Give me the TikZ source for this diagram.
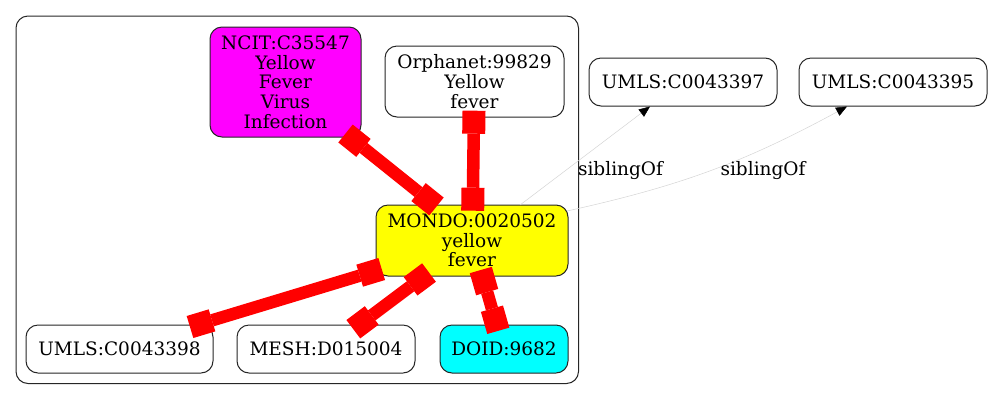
\documentclass[tikz,border=0pt]{standalone}
\usepackage{fontspec}
\setmainfont{DejaVu Serif}
\usetikzlibrary{arrows.meta,calc}
\definecolor{gvmag}{RGB}{255,0,255}
\definecolor{gvyel}{RGB}{255,255,0}
\definecolor{gvcyan}{RGB}{0,255,255}
\definecolor{gvred}{RGB}{255,0,0}
\begin{document}
\begin{tikzpicture}[x=1pt,y=-1pt,
  box/.style={draw=black!85, line width=1pt, rounded corners=12pt, align=center,
    inner sep=0pt, outer sep=0pt, font=\fontsize{18.5}{19.7}\selectfont},
  redge/.style={draw=gvred, line width=12.5pt,
    {Square[length=23pt,width=23pt,line width=0pt]}-{Square[length=23pt,width=23pt,line width=0pt]}},
  sib/.style={draw=black!17, line width=0.5pt, -{Triangle[length=11pt,width=9pt,black]}},
  lab/.style={inner sep=0pt, font=\fontsize{18.5}{19.7}\selectfont}
]
\useasboundingbox (0,0) rectangle (992,400);
\draw[draw=black!85, line width=1pt, rounded corners=12pt] (16,16) rectangle (578.5,383.5);

\node[box, fill=gvmag, minimum width=151pt, minimum height=110pt] (ncit) at (285.5,82) {NCIT:C35547\\Yellow\\Fever\\Virus\\Infection};
\node[box, fill=white, minimum width=179pt, minimum height=71pt] (orpha) at (474.5,81.5) {Orphanet:99829\\Yellow\\fever};
\node[box, fill=gvyel, minimum width=192pt, minimum height=71pt] (mondo) at (472,240.5) {MONDO:0020502\\yellow\\fever};
\node[box, fill=white, minimum width=187pt, minimum height=48pt] (u98) at (119.5,349) {UMLS:C0043398};
\node[box, fill=white, minimum width=178pt, minimum height=48pt] (mesh) at (326,349) {MESH:D015004};
\node[box, fill=gvcyan, minimum width=128pt, minimum height=48pt] (doid) at (504,349) {DOID:9682};
\node[box, fill=white, minimum width=188pt, minimum height=48pt] (u97) at (683,82) {UMLS:C0043397};
\node[box, fill=white, minimum width=188pt, minimum height=48pt] (u95) at (893,82) {UMLS:C0043395};

\draw[redge] ($(ncit.south east)+(-15.5,-3.5)$) -- ($(mondo.north west)+(60.5,1.5)$);
\draw[redge] ($(orpha.south)+(-0.5,-6.3)$) -- ($(mondo.north)+(0.7,5.7)$);
\draw[redge] ($(mondo.south west)+(5.7,-7)$) -- ($(u98.north east)+(-23,2)$);
\draw[redge] ($(mondo.south)+(-43,-3.5)$) -- ($(mesh.north)+(27.3,4.2)$);
\draw[redge] ($(mondo.south)+(8.8,-6)$) -- ($(doid.north)+(-5.7,5.8)$);

\draw[sib] ($(mondo.north)+(48,0)$) -- ($(u97.south)+(-33,0.5)$);
\draw[sib] ($(mondo.north east)+(-1,6)$) to[bend right=8] ($(u95.south)+(-46,0.5)$);
\node[lab] (l1) at (620.5,171) {siblingOf};
\node[lab] (l2) at (763,171) {siblingOf};
\end{tikzpicture}
\end{document}
